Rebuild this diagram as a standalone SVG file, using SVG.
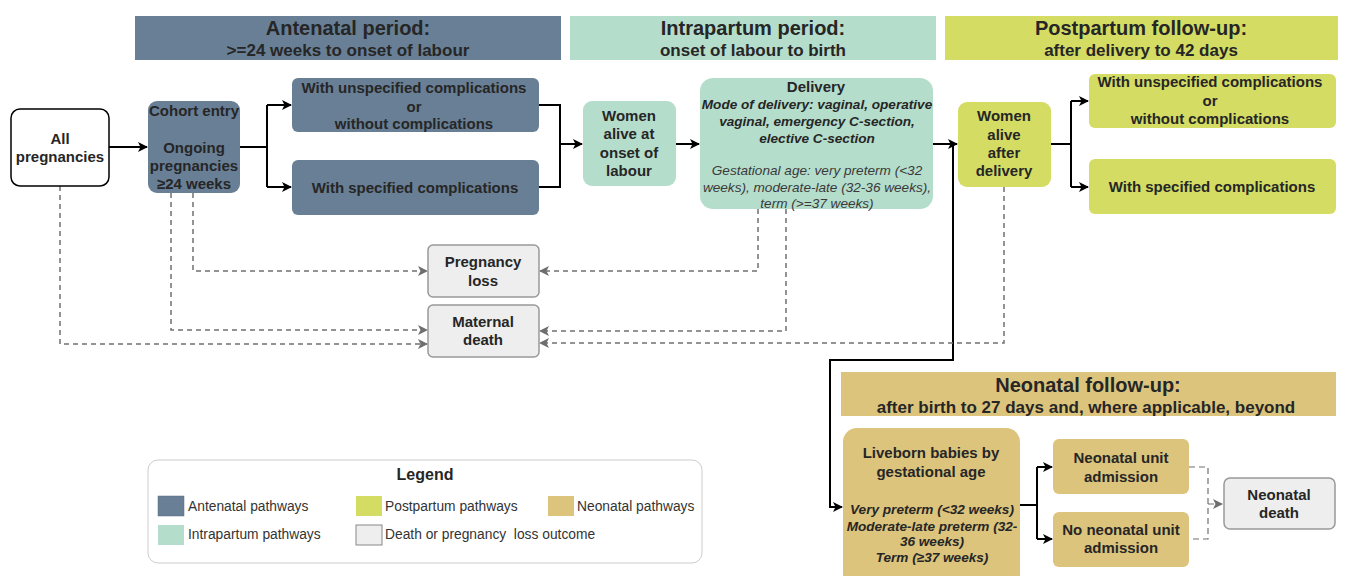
<svg xmlns="http://www.w3.org/2000/svg" width="1346" height="576" viewBox="0 0 1346 576">
<defs>
<marker id="ab" viewBox="0 0 10 10" refX="9" refY="5" markerWidth="10" markerHeight="10" markerUnits="userSpaceOnUse" orient="auto"><path d="M0,0 L10,5 L0,10 L2.5,5 z" fill="#000"/></marker>
<marker id="ag" viewBox="0 0 10 10" refX="9" refY="5" markerWidth="10" markerHeight="10" markerUnits="userSpaceOnUse" orient="auto"><path d="M0,0 L10,5 L0,10 L2.5,5 z" fill="#6e6e6e"/></marker>
<style>
text{font-family:"Liberation Sans",Arial,sans-serif;fill:#262626;text-anchor:middle}
.b{font-weight:bold;font-size:15px}
.h1{font-weight:bold;font-size:20px}
.h2{font-weight:bold;font-size:17px}
.bi{font-weight:bold;font-style:italic;font-size:13.6px}
.it{font-style:italic;font-size:13.6px;fill:#3a3a3a}
.lg{font-size:13.8px;text-anchor:start;fill:#333}
.an{fill:#687f95}
.ip{fill:#b5ddcc}
.pp{fill:#d4dc64}
.nn{fill:#dcc47d}
.gy{fill:#eeeeee;stroke:#999;stroke-width:1.5}
.s{fill:none;stroke:#000;stroke-width:2}
.d{fill:none;stroke:#707070;stroke-width:1.5;stroke-dasharray:5 4}
.d2{fill:none;stroke:#707070;stroke-width:1.2;stroke-dasharray:6 4}
</style>
</defs>
<rect width="1346" height="576" fill="#fff"/>

<g id="headers">
<rect class="an" x="135" y="16" width="426" height="44"/>
<text class="h1" x="348" y="35">Antenatal period:</text>
<text class="h2" x="348" y="56">&gt;=24 weeks to onset of labour</text>
<rect class="ip" x="570" y="16" width="366" height="44"/>
<text class="h1" x="753" y="35">Intrapartum period:</text>
<text class="h2" x="753" y="56">onset of labour to birth</text>
<rect class="pp" x="945" y="16" width="393" height="44"/>
<text class="h1" x="1141" y="35">Postpartum follow-up:</text>
<text class="h2" x="1141" y="56">after delivery to 42 days</text>
<rect class="nn" x="841" y="372" width="495" height="44"/>
<text class="h1" x="1088" y="392">Neonatal follow-up:</text>
<text class="h2" x="1086" y="413">after birth to 27 days and, where applicable, beyond</text>
</g>

<g id="connectors">
<path class="s" d="M109,147 H147" marker-end="url(#ab)"/>
<path class="s" d="M240,147 H267 M267,105 V187"/>
<path class="s" d="M267,105 H291" marker-end="url(#ab)"/>
<path class="s" d="M267,187 H291" marker-end="url(#ab)"/>
<path class="s" d="M539,105 H560 V187 H539"/>
<path class="s" d="M560,144 H582" marker-end="url(#ab)"/>
<path class="s" d="M676,144 H699" marker-end="url(#ab)"/>
<path class="s" d="M933,144 H957" marker-end="url(#ab)"/>
<path class="s" d="M953,144 V360 H830 V507 H842" marker-end="url(#ab)"/>
<path class="s" d="M1051,144 H1071 M1071,101 V187"/>
<path class="s" d="M1071,101 H1088" marker-end="url(#ab)"/>
<path class="s" d="M1071,187 H1088" marker-end="url(#ab)"/>
<path class="s" d="M1020,505 H1037 M1037,467 V539"/>
<path class="s" d="M1037,467 H1052" marker-end="url(#ab)"/>
<path class="s" d="M1037,539 H1052" marker-end="url(#ab)"/>
<path class="d2" d="M1189,467 H1208 V539 H1189"/>
<path class="d2" d="M1208,504 H1222" marker-end="url(#ag)"/>
<path class="d" d="M60,186 V344 H427" marker-end="url(#ag)"/>
<path class="d" d="M171,193 V330 H427" marker-end="url(#ag)"/>
<path class="d" d="M193,193 V271 H427" marker-end="url(#ag)"/>
<path class="d" d="M758,209 V271 H540" marker-end="url(#ag)"/>
<path class="d" d="M786,209 V331 H540" marker-end="url(#ag)"/>
<path class="d" d="M1004,187 V343 H540" marker-end="url(#ag)"/>
</g>

<g id="all-pregnancies">
<rect x="11" y="109" width="98" height="77" rx="9" fill="#fff" stroke="#000" stroke-width="1.5"/>
<text class="b" x="60" y="144">All</text>
<text class="b" x="60" y="162">pregnancies</text>
</g>

<g id="cohort-entry">
<rect class="an" x="148" y="101" width="92" height="92" rx="9"/>
<text class="b" x="194" y="116">Cohort entry</text>
<text class="b" x="194" y="153">Ongoing</text>
<text class="b" x="194" y="171">pregnancies</text>
<text class="b" x="194" y="189">≥24 weeks</text>
</g>

<g id="antenatal-unspecified">
<rect class="an" x="292" y="78" width="247" height="54" rx="6"/>
<text class="b" x="414" y="93">With unspecified complications</text>
<text class="b" x="414" y="112">or</text>
<text class="b" x="414" y="129">without complications</text>
</g>

<g id="antenatal-specified">
<rect class="an" x="292" y="160" width="247" height="55" rx="6"/>
<text class="b" x="415" y="193">With specified complications</text>
</g>

<g id="women-alive-onset">
<rect class="ip" x="583" y="101" width="93" height="85" rx="9"/>
<text class="b" x="629" y="121">Women</text>
<text class="b" x="629" y="139">alive at</text>
<text class="b" x="629" y="158">onset of</text>
<text class="b" x="629" y="176">labour</text>
</g>

<g id="delivery">
<rect class="ip" x="700" y="78" width="233" height="131" rx="13"/>
<text class="b" x="816" y="92">Delivery</text>
<text class="bi" x="817" y="109">Mode of delivery: vaginal, operative</text>
<text class="bi" x="817" y="126">vaginal, emergency C-section,</text>
<text class="bi" x="817" y="143">elective C-section</text>
<text class="it" x="817" y="175">Gestational age: very preterm (&lt;32</text>
<text class="it" x="817" y="192">weeks), moderate-late (32-36 weeks),</text>
<text class="it" x="817" y="208">term (&gt;=37 weeks)</text>
</g>

<g id="women-alive-after-delivery">
<rect class="pp" x="958" y="102" width="93" height="85" rx="9"/>
<text class="b" x="1004" y="121">Women</text>
<text class="b" x="1004" y="140">alive</text>
<text class="b" x="1004" y="158">after</text>
<text class="b" x="1004" y="176">delivery</text>
</g>

<g id="postpartum-unspecified">
<rect class="pp" x="1089" y="74" width="247" height="54" rx="6"/>
<text class="b" x="1210" y="87">With unspecified complications</text>
<text class="b" x="1210" y="106">or</text>
<text class="b" x="1210" y="124">without complications</text>
</g>

<g id="postpartum-specified">
<rect class="pp" x="1089" y="159" width="247" height="55" rx="6"/>
<text class="b" x="1212" y="192">With specified complications</text>
</g>

<g id="pregnancy-loss">
<rect class="gy" x="428" y="245" width="111" height="52" rx="5"/>
<text class="b" x="483" y="267">Pregnancy</text>
<text class="b" x="483" y="286">loss</text>
</g>

<g id="maternal-death">
<rect class="gy" x="428" y="305" width="111" height="52" rx="5"/>
<text class="b" x="483" y="327">Maternal</text>
<text class="b" x="483" y="345">death</text>
</g>

<g id="liveborn-babies">
<rect class="nn" x="843" y="428" width="177" height="160" rx="14"/>
<text class="b" x="931" y="458">Liveborn babies by</text>
<text class="b" x="931" y="477">gestational age</text>
<text class="bi" x="932" y="514">Very preterm (&lt;32 weeks)</text>
<text class="bi" x="932" y="531">Moderate-late preterm (32-</text>
<text class="bi" x="932" y="546">36 weeks)</text>
<text class="bi" x="932" y="562">Term (≥37 weeks)</text>
</g>

<g id="neonatal-unit-admission">
<rect class="nn" x="1053" y="439" width="136" height="55" rx="6"/>
<text class="b" x="1121" y="463">Neonatal unit</text>
<text class="b" x="1121" y="482">admission</text>
</g>

<g id="no-neonatal-unit-admission">
<rect class="nn" x="1053" y="512" width="136" height="55" rx="6"/>
<text class="b" x="1121" y="535">No neonatal unit</text>
<text class="b" x="1121" y="553">admission</text>
</g>

<g id="neonatal-death">
<rect class="gy" x="1224" y="478" width="111" height="51" rx="6"/>
<text class="b" x="1279" y="500">Neonatal</text>
<text class="b" x="1279" y="518">death</text>
</g>

<g id="legend">
<rect x="148" y="460" width="554" height="103" rx="10" fill="#fff" stroke="#ccc" stroke-width="1"/>
<text class="b" x="425" y="480" style="font-size:16px">Legend</text>
<rect class="an" x="158" y="496" width="26" height="20" stroke="#5a6e82" stroke-width="0.5"/>
<text class="lg" x="188" y="511">Antenatal pathways</text>
<rect class="pp" x="356" y="496" width="26" height="20"/>
<text class="lg" x="385" y="511">Postpartum pathways</text>
<rect class="nn" x="548" y="496" width="26" height="20"/>
<text class="lg" x="577" y="511">Neonatal pathways</text>
<rect class="ip" x="158" y="525" width="26" height="20"/>
<text class="lg" x="188" y="539">Intrapartum pathways</text>
<rect class="gy" x="356" y="525" width="26" height="20" style="stroke:#888;stroke-width:1"/>
<text class="lg" x="385" y="539" xml:space="preserve">Death or pregnancy  loss outcome</text>
</g>
</svg>
